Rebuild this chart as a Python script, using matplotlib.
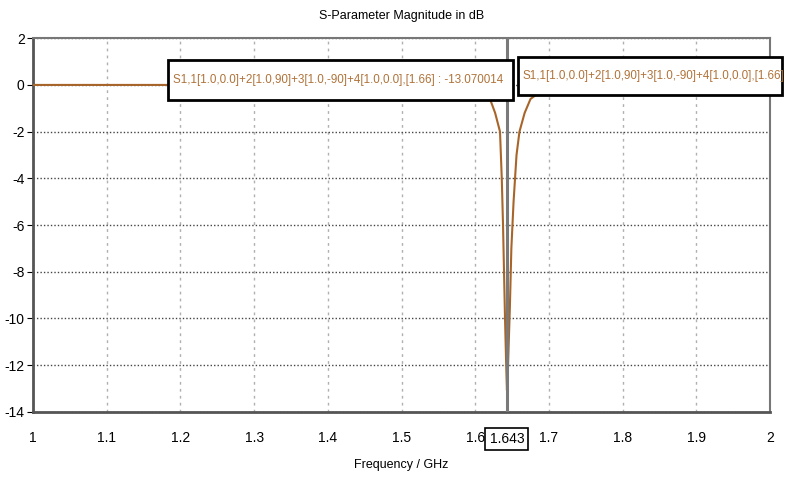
import matplotlib.pyplot as plt
import matplotlib.transforms as mtransforms
from matplotlib.patches import Rectangle

# Дані кривої S11 (з картинки)
freq = [1.0, 1.1, 1.2, 1.3, 1.4, 1.5, 1.58, 1.6, 1.61, 1.62, 1.627, 1.6336,
        1.636, 1.6377, 1.6404, 1.642, 1.643, 1.644, 1.6455, 1.647, 1.649,
        1.652, 1.656, 1.66, 1.667, 1.675, 1.69, 1.72, 1.8, 1.9, 2.0]
s11_db = [0.0, 0.0, 0.0, 0.0, 0.0, -0.01, -0.03, -0.08, -0.2, -0.6, -1.2, -2.0,
          -4.0, -6.0, -10.0, -12.0, -13.07, -12.5, -11.0, -9.5, -7.0,
          -5.0, -3.0, -2.0, -1.2, -0.6, -0.25, -0.08, -0.02, -0.01, 0.0]

x_ticks = [1, 1.1, 1.2, 1.3, 1.4, 1.5, 1.6, 1.7, 1.8, 1.9, 2]
x_tick_labels = ['1', '1.1', '1.2', '1.3', '1.4', '1.5', '1.6', '1.7', '1.8', '1.9', '2']
y_ticks = [2, 0, -2, -4, -6, -8, -10, -12, -14]
marker_freq = 1.643
marker_label = '1.643'
label_left = 'S1,1[1.0,0.0]+2[1.0,90]+3[1.0,-90]+4[1.0,0.0],[1.66] : -13.070014'
label_right = 'S1,1[1.0,0.0]+2[1.0,90]+3[1.0,-90]+4[1.0,0.0],[1.66]'

plt.rcParams['font.family'] = ['Liberation Sans', 'DejaVu Sans']
plt.rcParams['axes.unicode_minus'] = False

line_color = '#a8652a'
text_color = '#b0733a'

fig = plt.figure(figsize=(7.85, 4.84), dpi=100)
ax = fig.add_axes([0.042, 0.149, 0.939, 0.772])

ax.plot(freq, s11_db, color=line_color, lw=1.5, zorder=3)
ax.axvline(marker_freq, color='#7a7a7a', lw=2.2, zorder=4)

ax.set_xlim(1, 2)
ax.set_ylim(-14, 2)
ax.set_xticks(x_ticks)
ax.set_xticklabels(x_tick_labels)
ax.set_yticks(y_ticks)
ax.tick_params(axis='x', length=0, pad=14, labelsize=10)
ax.tick_params(axis='y', length=4, pad=2, labelsize=10)

ax.grid(axis='x', color='#b0b0b0', linestyle=(0, (2, 3)), lw=1)
ax.grid(axis='y', color='#444444', linestyle=(0, (1, 1.5)), lw=1)
ax.set_axisbelow(True)
for side in ['left', 'bottom']:
    ax.spines[side].set_linewidth(2)
    ax.spines[side].set_color('#555555')
for side in ['top', 'right']:
    ax.spines[side].set_linewidth(1.5)
    ax.spines[side].set_color('#777777')

ax.set_title('S-Parameter Magnitude in dB', fontsize=9, pad=14)
ax.set_xlabel('Frequency / GHz', fontsize=9, labelpad=10)

# Підписи маркерів (рамки в координатах фігури)
fig.add_artist(Rectangle((0.214, 0.793), 0.4395, 0.0826, transform=fig.transFigure,
                         fc='white', ec='black', lw=2, zorder=10))
fig.text(0.221, 0.834, label_left, color=text_color, fontsize=8.4,
         va='center', ha='left', zorder=11)
fig.add_artist(Rectangle((0.660, 0.804), 0.336, 0.0785, transform=fig.transFigure,
                         fc='white', ec='black', lw=2, zorder=10))
fig.text(0.666, 0.843, label_right, color=text_color, fontsize=8.4,
         va='center', ha='left', zorder=11)

trans = mtransforms.blended_transform_factory(ax.transData, ax.transAxes)
ax.text(marker_freq, -0.072, marker_label, transform=trans, fontsize=10,
        ha='center', va='center',
        bbox=dict(boxstyle='square,pad=0.3', fc='white', ec='black', lw=1.2))

fig.savefig('out.png', dpi=100)
